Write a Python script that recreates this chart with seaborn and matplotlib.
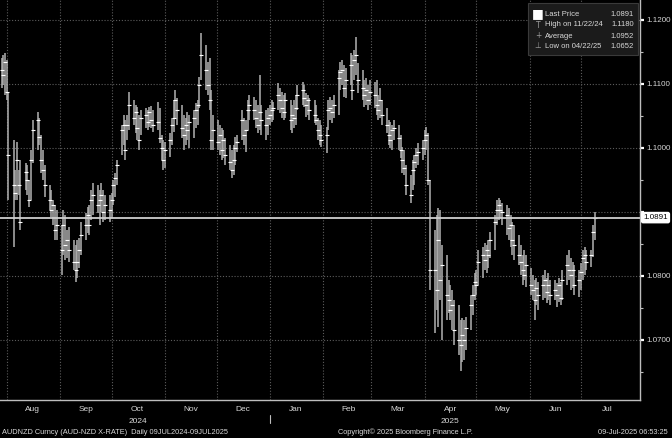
import numpy as np
import pandas as pd
import matplotlib
matplotlib.use('Agg')
import matplotlib.pyplot as plt
import matplotlib.dates as mdates
from matplotlib.patches import Rectangle
import seaborn as sns

# AUDNZD daily bars, business days 29 Jul 2024 - 09 Jul 2025 (one row per week)
start_date = '2024-07-29'
end_date = '2025-07-09'

high = [
    1.1141, 1.1145, 1.1148, 1.1138, 1.1088,
    1.1013, 1.0966, 1.1009, 1.0966, 1.0981,
    1.0977, 1.0973, 1.0950, 1.0997, 1.1044,
    1.1056, 1.1047, 1.1020, 1.0997, 1.0973,
    1.0942, 1.0934, 1.0919, 1.0911, 1.0903,
    1.0880, 1.0903, 1.0895, 1.0872, 1.0877,
    1.0856, 1.0848, 1.0856, 1.0859, 1.0884,
    1.0898, 1.0908, 1.0911, 1.0934, 1.0945,
    1.0942, 1.0934, 1.0945, 1.0934, 1.0927,
    1.0927, 1.0930, 1.0950, 1.0961, 1.0981,
    1.1036, 1.1052, 1.1044, 1.1052, 1.1088,
    1.1075, 1.1067, 1.1064, 1.1052, 1.1059,
    1.1063, 1.1059, 1.1064, 1.1066, 1.1059,
    1.1072, 1.1063, 1.1020, 1.1013, 1.1009,
    1.1023, 1.1047, 1.1075, 1.1091, 1.1078,
    1.1067, 1.1052, 1.1047, 1.1056, 1.1052,
    1.1059, 1.1070, 1.1075, 1.1111, 1.1180,
    1.1161, 1.1134, 1.1141, 1.1091, 1.1052,
    1.1044, 1.1036, 1.1031, 1.1028, 1.1016,
    1.1005, 1.0997, 1.1005, 1.1017, 1.1020,
    1.1059, 1.1047, 1.1044, 1.1075, 1.1083,
    1.1080, 1.1075, 1.1067, 1.1114, 1.1067,
    1.1059, 1.1063, 1.1067, 1.1075, 1.1072,
    1.1102, 1.1094, 1.1088, 1.1083, 1.1086,
    1.1075, 1.1067, 1.1075, 1.1083, 1.1098,
    1.1103, 1.1098, 1.1086, 1.1083, 1.1078,
    1.1075, 1.1067, 1.1047, 1.1044, 1.1036,
    1.1033, 1.1075, 1.1080, 1.1075, 1.1083,
    1.1122, 1.1134, 1.1138, 1.1130, 1.1125,
    1.1148, 1.1145, 1.1153, 1.1173, 1.1133,
    1.1122, 1.1106, 1.1109, 1.1098, 1.1106,
    1.1103, 1.1106, 1.1083, 1.1094, 1.1075,
    1.1063, 1.1044, 1.1041, 1.1036, 1.1044,
    1.1036, 1.1020, 1.1002, 1.0997, 1.0973,
    1.0958, 1.0981, 1.0989, 1.1000, 1.1008,
    1.1013, 1.1028, 1.1033, 1.1023, 1.0950,
    1.0872, 1.0895, 1.0906, 1.0903, 1.0848,
    1.0833, 1.0794, 1.0786, 1.0778, 1.0763,
    1.0755, 1.0731, 1.0734, 1.0731, 1.0736,
    1.0770, 1.0786, 1.0805, 1.0809, 1.0841,
    1.0845, 1.0852, 1.0848, 1.0856, 1.0869,
    1.0895, 1.0919, 1.0922, 1.0919, 1.0914,
    1.0911, 1.0906, 1.0895, 1.0884, 1.0880,
    1.0864, 1.0848, 1.0833, 1.0841, 1.0833,
    1.0813, 1.0802, 1.0794, 1.0797, 1.0791,
    1.0802, 1.0809, 1.0797, 1.0805, 1.0794,
    1.0794, 1.0789, 1.0797, 1.0791, 1.0809,
    1.0833, 1.0841, 1.0828, 1.0822, 1.0817,
    1.0809, 1.0820, 1.0841, 1.0845, 1.0841,
    1.0841, 1.0880, 1.0900,
]

low = [
    1.1094, 1.1098, 1.1083, 1.1075, 1.0919,
    1.0845, 1.0919, 1.0919, 1.0927, 1.0872,
    1.0934, 1.0927, 1.0908, 1.0919, 1.0977,
    1.0997, 1.1005, 1.0961, 1.0950, 1.0923,
    1.0903, 1.0892, 1.0880, 1.0856, 1.0856,
    1.0802, 1.0833, 1.0825, 1.0828, 1.0822,
    1.0809, 1.0791, 1.0797, 1.0813, 1.0833,
    1.0856, 1.0867, 1.0864, 1.0888, 1.0895,
    1.0898, 1.0880, 1.0900, 1.0884, 1.0888,
    1.0884, 1.0891, 1.0911, 1.0923, 1.0942,
    1.0989, 1.1005, 1.0981, 1.1013, 1.1028,
    1.1036, 1.1023, 1.1013, 1.0997, 1.1020,
    1.1031, 1.1028, 1.1033, 1.1031, 1.1025,
    1.1028, 1.1008, 1.0981, 1.0966, 1.0969,
    1.0986, 1.1005, 1.1025, 1.1047, 1.1036,
    1.1016, 1.0997, 1.1005, 1.1013, 1.1000,
    1.1016, 1.1031, 1.1036, 1.1063, 1.1106,
    1.1091, 1.1083, 1.1059, 1.0997, 1.0997,
    1.0997, 1.0989, 1.0981, 1.0984, 1.0973,
    1.0966, 1.0953, 1.0958, 1.0973, 1.0994,
    1.1013, 1.1005, 1.0994, 1.1028, 1.1044,
    1.1044, 1.1031, 1.1023, 1.1028, 1.1020,
    1.1013, 1.1020, 1.1036, 1.1041, 1.1044,
    1.1059, 1.1055, 1.1047, 1.1044, 1.1047,
    1.1028, 1.1023, 1.1031, 1.1036, 1.1059,
    1.1067, 1.1064, 1.1048, 1.1052, 1.1044,
    1.1039, 1.1036, 1.1013, 1.1005, 1.1002,
    1.0992, 1.1028, 1.1044, 1.1039, 1.1047,
    1.1052, 1.1091, 1.1098, 1.1080, 1.1078,
    1.1098, 1.1075, 1.1106, 1.1114, 1.1086,
    1.1075, 1.1064, 1.1067, 1.1059, 1.1067,
    1.1063, 1.1052, 1.1044, 1.1047, 1.1036,
    1.1023, 1.1005, 1.1000, 1.0997, 1.1013,
    1.0997, 1.0984, 1.0961, 1.0958, 1.0927,
    1.0914, 1.0934, 1.0942, 1.0969, 1.0973,
    1.0981, 1.0989, 1.0997, 1.0942, 1.0778,
    1.0711, 1.0747, 1.0720, 1.0763, 1.0700,
    1.0731, 1.0742, 1.0731, 1.0716, 1.0692,
    1.0677, 1.0652, 1.0666, 1.0669, 1.0684,
    1.0716, 1.0739, 1.0763, 1.0770, 1.0786,
    1.0797, 1.0809, 1.0805, 1.0813, 1.0828,
    1.0841, 1.0880, 1.0888, 1.0891, 1.0880,
    1.0864, 1.0856, 1.0845, 1.0833, 1.0825,
    1.0817, 1.0802, 1.0786, 1.0794, 1.0783,
    1.0770, 1.0763, 1.0731, 1.0755, 1.0747,
    1.0763, 1.0766, 1.0758, 1.0763, 1.0755,
    1.0763, 1.0752, 1.0759, 1.0755, 1.0763,
    1.0786, 1.0794, 1.0778, 1.0781, 1.0770,
    1.0767, 1.0778, 1.0794, 1.0802, 1.0809,
    1.0814, 1.0830, 1.0856,
]

close = [
    1.1122, 1.1114, 1.1134, 1.1088, 1.0989,
    1.0942, 1.0930, 1.0981, 1.0942, 1.0884,
    1.0963, 1.0950, 1.0919, 1.0981, 1.1028,
    1.1044, 1.1017, 1.0981, 1.0966, 1.0942,
    1.0919, 1.0903, 1.0911, 1.0872, 1.0880,
    1.0841, 1.0880, 1.0848, 1.0856, 1.0841,
    1.0822, 1.0809, 1.0822, 1.0841, 1.0864,
    1.0880, 1.0895, 1.0880, 1.0919, 1.0927,
    1.0911, 1.0919, 1.0927, 1.0900, 1.0911,
    1.0903, 1.0919, 1.0942, 1.0953, 1.0973,
    1.1028, 1.1036, 1.0997, 1.1036, 1.1067,
    1.1047, 1.1056, 1.1031, 1.1013, 1.1047,
    1.1052, 1.1041, 1.1056, 1.1044, 1.1036,
    1.1041, 1.1016, 1.1000, 1.0981, 1.0997,
    1.1013, 1.1036, 1.1047, 1.1075, 1.1059,
    1.1031, 1.1020, 1.1036, 1.1028, 1.1041,
    1.1047, 1.1059, 1.1067, 1.1098, 1.1145,
    1.1122, 1.1098, 1.1075, 1.1013, 1.1028,
    1.1009, 1.1020, 1.0997, 1.1013, 1.0989,
    1.0978, 1.0966, 1.0981, 1.1000, 1.1009,
    1.1044, 1.1020, 1.1028, 1.1059, 1.1067,
    1.1059, 1.1047, 1.1036, 1.1056, 1.1044,
    1.1036, 1.1047, 1.1052, 1.1059, 1.1063,
    1.1083, 1.1075, 1.1063, 1.1056, 1.1075,
    1.1044, 1.1052, 1.1047, 1.1063, 1.1083,
    1.1091, 1.1078, 1.1067, 1.1075, 1.1059,
    1.1052, 1.1044, 1.1028, 1.1020, 1.1013,
    1.1020, 1.1059, 1.1063, 1.1056, 1.1067,
    1.1109, 1.1119, 1.1122, 1.1094, 1.1106,
    1.1130, 1.1091, 1.1138, 1.1145, 1.1106,
    1.1094, 1.1083, 1.1091, 1.1075, 1.1088,
    1.1083, 1.1067, 1.1059, 1.1075, 1.1052,
    1.1036, 1.1020, 1.1013, 1.1028, 1.1031,
    1.1016, 1.0997, 1.0981, 1.0969, 1.0942,
    1.0927, 1.0966, 1.0978, 1.0989, 1.0994,
    1.1000, 1.1013, 1.1020, 1.0950, 1.0809,
    1.0809, 1.0778, 1.0856, 1.0794, 1.0817,
    1.0770, 1.0763, 1.0747, 1.0755, 1.0716,
    1.0700, 1.0692, 1.0708, 1.0700, 1.0719,
    1.0755, 1.0770, 1.0791, 1.0786, 1.0822,
    1.0833, 1.0825, 1.0841, 1.0833, 1.0856,
    1.0884, 1.0903, 1.0911, 1.0903, 1.0900,
    1.0895, 1.0875, 1.0880, 1.0856, 1.0848,
    1.0833, 1.0822, 1.0809, 1.0802, 1.0817,
    1.0786, 1.0778, 1.0763, 1.0781, 1.0770,
    1.0786, 1.0794, 1.0775, 1.0786, 1.0770,
    1.0778, 1.0770, 1.0786, 1.0766, 1.0794,
    1.0817, 1.0809, 1.0802, 1.0809, 1.0786,
    1.0794, 1.0806, 1.0828, 1.0833, 1.0822,
    1.0833, 1.0869, 1.0891,
]

# legend figures
last_price = 1.0891
high_label, high_value = 'High on 11/22/24', 1.1180
avg_value = 1.0952
low_label, low_value = 'Low on 04/22/25', 1.0652

ytick_values = [1.07, 1.08, 1.09, 1.10, 1.11, 1.12]
ytick_labels = ['1.0700', '1.0800', '', '1.1000', '1.1100', '1.1200']
year_labels = [('2024-10-16', '2024'), ('2025-04-16', '2025')]

dates = pd.bdate_range(start_date, end_date)
df = pd.DataFrame({'date': dates, 'high': high, 'low': low, 'close': close})

sns.set_theme(style='dark', rc={'axes.facecolor': 'black', 'figure.facecolor': 'black',
                                'axes.grid': False})
plt.rcParams['font.family'] = ['Liberation Sans Narrow', 'Liberation Sans', 'DejaVu Sans']
txt = '#d8d8d8'

fig = plt.figure(figsize=(6.72, 4.38), dpi=100)
ax = fig.add_axes([0.0, 1 - 400 / 438, 640 / 672, 400 / 438])
ax.set_facecolor('black')

# dotted grid
for v in ytick_values:
    ax.axhline(v, color='#5c5c5c', lw=0.8, ls=(0, (1, 1.6)), zorder=1)
month_starts = pd.date_range('2024-08-01', '2025-07-01', freq='MS')
for m in month_starts:
    ax.axvline(m, color='#5c5c5c', lw=0.8, ls=(0, (1, 1.6)), zorder=1)

# OHLC style bars
ax.vlines(df['date'], df['low'], df['high'], color='#b2b2b2', lw=1.1, zorder=3)
sns.scatterplot(data=df, x='date', y='close', marker='_', s=5, color='white',
                linewidth=0.8, ax=ax, legend=False, zorder=4)

ax.axhline(last_price, color='#cfcfcf', lw=1.3, zorder=5)

x0 = mdates.date2num(pd.Timestamp('2024-08-01'))
ax.set_xlim(x0 - 3.9, x0 + 368.2)
ax.set_ylim(1.0606, 1.1231)

for s in ['left', 'top']:
    ax.spines[s].set_visible(False)
for s in ['right', 'bottom']:
    ax.spines[s].set_color('#bdbdbd')
    ax.spines[s].set_linewidth(1.0)

# right price axis
ax.yaxis.tick_right()
ax.set_yticks(ytick_values)
ax.set_yticklabels(ytick_labels)
ax.set_yticks(np.arange(1.065, 1.12, 0.01), minor=True)
ax.tick_params(axis='y', which='major', direction='out', length=3, width=1.6,
               color='white', labelcolor=txt, labelsize=5.8, pad=1.5)
ax.tick_params(axis='y', which='minor', direction='out', length=2, width=0.8,
               color='#bdbdbd')
ax.set_ylabel('')

# month axis
ax.xaxis.set_major_locator(mdates.MonthLocator())
ax.xaxis.set_major_formatter(plt.NullFormatter())
ax.xaxis.set_minor_locator(mdates.MonthLocator(bymonthday=16))
ax.xaxis.set_minor_formatter(mdates.DateFormatter('%b'))
ax.tick_params(axis='x', which='major', direction='in', length=3, width=0.8,
               color='#bdbdbd')
ax.tick_params(axis='x', which='minor', length=0, labelcolor=txt, labelsize=6, pad=4.5)
ax.set_xlabel('')

xt = ax.get_xaxis_transform()
for d, lab in year_labels:
    ax.text(pd.Timestamp(d), -0.054, lab, transform=xt, ha='center', va='center',
            color=txt, fontsize=6, clip_on=False)
jan1 = pd.Timestamp('2025-01-01')
ax.plot([jan1, jan1], [-0.038, -0.058], transform=xt, color='#bdbdbd', lw=0.8,
        clip_on=False)

# last price tag
ax.text(1.005, last_price, f'{last_price:.4f}', transform=ax.get_yaxis_transform(),
        ha='left', va='center', fontsize=5.8, color='black', zorder=10, clip_on=False,
        bbox=dict(boxstyle='round,pad=0.2', fc='white', ec='white'))

# legend box
fig.patches.append(Rectangle((528 / 672, 1 - 55 / 438), 110 / 672, 52 / 438,
                             transform=fig.transFigure, fc='#1b1b1b', ec='#3a3a3a',
                             lw=0.8, zorder=20))
rows = [('Last Price', last_price), (high_label, high_value),
        ('Average', avg_value), (low_label, low_value)]
row_y = [14, 25, 36, 46]
symbols = ['\u25A0', 'T', '+', '\u22A5']
for (lab, val), yy, sym in zip(rows, row_y, symbols):
    fy = 1 - yy / 438
    if sym == '\u25A0':
        fig.text(538 / 672, fy, sym, color='white', fontsize=9, ha='center', va='center',
                 family='DejaVu Sans', zorder=21)
    else:
        fig.text(538 / 672, fy, sym, color='#9a9a9a', fontsize=5.5, ha='center',
                 va='center', family='DejaVu Sans', zorder=21)
    fig.text(545 / 672, fy, lab, color=txt, fontsize=5.5, ha='left', va='center', zorder=21)
    fig.text(634 / 672, fy, f'{val:.4f}', color=txt, fontsize=5.5, ha='right',
             va='center', zorder=21)

# footer
fy = 1 - 432 / 438
fig.text(2 / 672, fy, 'AUDNZD Curncy (AUD-NZD X-RATE)  Daily 09JUL2024-09JUL2025',
         color=txt, fontsize=5.3, ha='left', va='center')
fig.text(338 / 672, fy, 'Copyright\u00a9 2025 Bloomberg Finance L.P.', color=txt,
         fontsize=5.3, ha='left', va='center')
fig.text(668 / 672, fy, '09-Jul-2025 06:53:25', color=txt, fontsize=5.3, ha='right',
         va='center')

fig.savefig('out.png', dpi=100, facecolor='black')
